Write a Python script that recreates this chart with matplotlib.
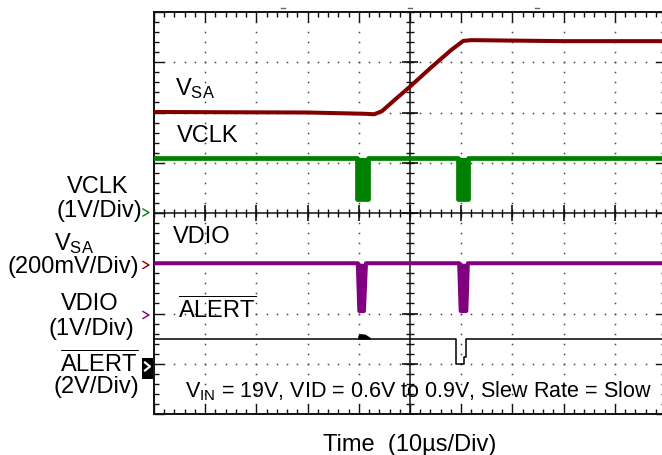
import matplotlib
matplotlib.use('Agg')
import matplotlib.pyplot as plt
import numpy as np
from matplotlib.lines import Line2D
from matplotlib.patches import Rectangle

plt.rcParams['font.family'] = ['Liberation Sans', 'DejaVu Sans']
plt.rcParams['mathtext.fontset'] = 'custom'
plt.rcParams['mathtext.rm'] = 'Liberation Sans'
plt.rcParams['mathtext.it'] = 'Liberation Sans:italic'
plt.rcParams['mathtext.bf'] = 'Liberation Sans:bold'

# ---------------- data (time in microseconds, values in volts) ----------------
vsa_t = [0, 30, 41, 43, 44.5, 47, 50, 54, 58, 60.4, 62, 80, 100]
vsa_v = [0.602, 0.600, 0.595, 0.593, 0.605, 0.650, 0.703, 0.777, 0.848, 0.885, 0.888, 0.884, 0.884]

vclk_t = [0, 39.6, 39.6, 41.8, 41.8, 59.4, 59.4, 61.3, 61.3, 100]
vclk_v = [1.09, 1.09, 0.28, 0.28, 1.09, 1.09, 0.28, 0.28, 1.09, 1.09]
vclk_high = 1.09

vdio_t = [0, 39.8, 40.1, 41.0, 41.4, 59.6, 59.9, 61.0, 61.3, 100]
vdio_v = [1.0, 1.0, 0.05, 0.05, 1.0, 1.0, 0.05, 0.05, 1.0, 1.0]
vdio_high = 1.0

alert_t = [0, 59.0, 59.0, 60.5, 60.5, 60.9, 60.9, 100]
alert_v = [0.98, 0.98, 0.0, 0.0, 0.27, 0.27, 0.98, 0.98]
alert_blob_t = [39.8, 40.2, 41.2, 42.2]
alert_blob_v = [1.12, 1.20, 1.18, 1.05]

# channel display: (zero level in divisions, volts per division)
CH_VSA = (3.0, 0.2)
CH_VCLK = (4.0, 1.0)
CH_VDIO = (2.0, 1.0)
CH_ALERT = (1.0, 2.0)

C_VSA = '#800000'
C_VCLK = '#008000'
C_VDIO = '#800080'
C_ALERT = '#000000'

W, H = 662, 456


def to_div(v, ch):
    return ch[0] + np.asarray(v, dtype=float) / ch[1]


def fx(px):
    return px / W


def fy(py):
    return 1 - py / H


fig = plt.figure(figsize=(W / 100, H / 100), dpi=100)
ax = fig.add_axes([fx(154), fy(415), 512 / W, 402 / H])
ax.set_xlim(0, 100)
ax.set_ylim(0, 8)

for s in ax.spines.values():
    s.set_linewidth(1.4)
    s.set_color('#111111')

ax.set_xticks(np.arange(0, 101, 10))
ax.set_xticks(np.arange(0, 101, 2), minor=True)
ax.set_yticks(np.arange(0, 8.01, 1))
ax.set_yticks(np.arange(0, 8.01, 0.2), minor=True)
ax.tick_params(which='both', direction='in', top=True, right=True,
               labelbottom=False, labelleft=False, color='#111111')
ax.tick_params(which='major', length=7, width=1)
ax.tick_params(which='minor', length=3.4, width=1)

# dotted graticule
xs_min = np.arange(0, 100.01, 2)
ys_min = np.arange(0, 8.001, 0.2)
gx, gy = [], []
for xm in range(10, 100, 10):
    if xm == 50:
        continue
    gx += [xm] * len(ys_min)
    gy += list(ys_min)
for ym in range(1, 8):
    if ym == 4:
        continue
    gx += list(xs_min)
    gy += [ym] * len(xs_min)
ax.plot(gx, gy, linestyle='none', marker='s', ms=1.1, mew=0, color='#444444', zorder=1)

# center axes with ticks
ax.axhline(4, color='#111111', lw=1.1, zorder=1)
ax.axvline(50, color='#111111', lw=1.1, zorder=1)
ax.plot(xs_min, [4] * len(xs_min), linestyle='none', marker='|', ms=6, mew=1, color='#111111', zorder=1)
ax.plot(np.arange(0, 101, 10), [4] * 11, linestyle='none', marker='|', ms=11, mew=1.2, color='#111111', zorder=1)
ax.plot([50] * len(ys_min), ys_min, linestyle='none', marker='_', ms=6, mew=1, color='#111111', zorder=1)
ax.plot([50] * 9, np.arange(0, 8.01, 1), linestyle='none', marker='_', ms=11, mew=1.2, color='#111111', zorder=1)

# traces
ax.plot(vsa_t, to_div(vsa_v, CH_VSA), color=C_VSA, lw=2.9, zorder=3, solid_joinstyle='round')

ax.plot(vclk_t, to_div(vclk_v, CH_VCLK), color=C_VCLK, lw=3.4, zorder=3)
ax.fill_between(vclk_t, to_div(vclk_v, CH_VCLK), to_div([vclk_high] * len(vclk_t), CH_VCLK),
                color=C_VCLK, lw=0, zorder=3)

ax.plot(vdio_t, to_div(vdio_v, CH_VDIO), color=C_VDIO, lw=2.9, zorder=3)
ax.fill_between(vdio_t, to_div(vdio_v, CH_VDIO), to_div([vdio_high] * len(vdio_t), CH_VDIO),
                color=C_VDIO, lw=0, zorder=3)

ax.plot(alert_t, to_div(alert_v, CH_ALERT), color=C_ALERT, lw=1.1, zorder=3)
ax.fill_between(alert_blob_t, to_div([alert_v[0]] * len(alert_blob_t), CH_ALERT),
                to_div(alert_blob_v, CH_ALERT), color=C_ALERT, lw=0, zorder=3)

# ---------------- text ----------------
FS = 17
ALERT_TXT = r'$\overline{\mathregular{ALERT}}$'

left_labels = [
    ('VCLK', 98, 193), ('(1V/Div)', 99, 217),
    (r'V$_\mathregular{SA}$', 74, 250), ('(200mV/Div)', 73.5, 273.5),
    ('VDIO', 90, 310), ('(1V/Div)', 91, 335),
    (ALERT_TXT, 99, 372), ('(2V/Div)', 96.5, 393.5),
]
for s, x, y in left_labels:
    fig.text(fx(x), fy(y), s, fontsize=FS, ha='center', va='baseline')

in_labels = [
    (r'V$_\mathregular{SA}$', 175, 95),
    ('VCLK', 177, 142),
    ('VDIO', 173, 243),
    (ALERT_TXT, 178, 318),
]
for s, x, y in in_labels:
    fig.text(fx(x), fy(y), s, fontsize=FS, ha='left', va='baseline')

fig.text(fx(185), fy(397), r'V$_\mathregular{IN}$ = 19V, VID = 0.6V to 0.9V, Slew Rate = Slow',
         fontsize=15.5, ha='left', va='baseline')
fig.text(fx(410), fy(451), 'Time  (10\u00b5s/Div)', fontsize=FS, ha='center', va='baseline')

# channel reference markers
def chevron(yc, color, lw=1.0):
    fig.add_artist(Line2D([fx(143), fx(149), fx(143)], [fy(yc - 3.5), fy(yc), fy(yc + 3.5)],
                          color=color, lw=lw))

chevron(213.5, C_VCLK)
chevron(266, C_VSA)
chevron(316, C_VDIO)
fig.add_artist(Rectangle((fx(142), fy(380)), 11 / W, 21 / H, color='black', lw=0))
fig.add_artist(Line2D([fx(145), fx(150), fx(145)], [fy(363.5), fy(367.5), fy(371.5)],
                      color='white', lw=1.6))

# small trigger marks above the frame
for px in (283, 410, 537):
    fig.add_artist(Line2D([fx(px - 2), fx(px + 2)], [fy(9), fy(9)], color='#666666', lw=1))

fig.savefig('out.png', dpi=100)
